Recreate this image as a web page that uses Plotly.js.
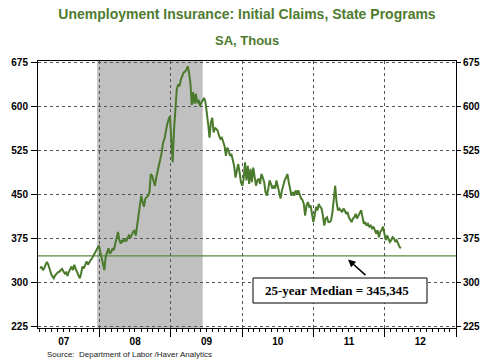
<!DOCTYPE html>
<html><head><meta charset="utf-8">
<script src="https://cdn.plot.ly/plotly-3.0.1.min.js"></script>
<style>html,body{margin:0;padding:0;background:#fff;} #chart{width:489px;height:364px;}</style>
</head><body><div id="chart"></div>
<script>
// Weekly initial claims, state programs, SA, thousands
const firstWeek = '2007-03-03';
const claims2007to2008 = [324,327,321,324,330,335,330,321,315,310,307,312,315,317,318,321,323,319,315,317,311,318,323,327,321,330,323,318,313,307,315,327,324,332,336,330,335,338,341,345,349,355,359,363,352,341,327,321,344,353,358,349,352,358,355,366,377,386,372,366,372,369,375,370,376,380,376,383,386,389,380,397];
const claims2008to2009 = [415,431,448,437,429,443,445,448,454,485,482,474,465,479,488,499,511,522,539,545,561,570,578,584,545,505,560,595,629,638,635,646,652,658,660,663,669,658,640,603,625,605,622,606,612,601];
const claims2009to2010 = [607,612,615,608,592,570,547,573,581,556,564,561,559,550,545,547,539,533,516,530,525,516,519,511,499,479,494,502,488,471,465,477,505,474,499,468,494,471,496,482,465,474,477,468,485,479,471,454,448,460,474,468,460,465,460,474,465,454,443,457,468,474,479,485,471,460,448,454,448,457,451,457,448];
const claims2010to2012 = [443,441,434,414,431,437,429,431,417,403,414,429,423,434,429,426,414,397,409,411,403,403,406,420,443,465,437,423,426,423,420,426,423,417,420,411,406,403,409,411,417,409,414,420,423,411,400,403,397,400,395,397,392,395,389,383,389,377,386,389,395,380,372,380,375,369,372,377,375,369,372,366,361,358];
const medianValue = 345.345;
const medianLabel = '25-year Median = 345,345';
const recessionStart = '2007-12-20';
const recessionEnd = '2009-06-13';
const xRange = ['2007-02-20', '2013-01-01'];
const yRange = [222, 678];
const yTickStep = 75;
const titleText = 'Unemployment Insurance: Initial Claims, State Programs';
const subtitleText = 'SA, Thous';
const sourceText = 'Source:\u00a0 Department of Labor /Haver Analytics';

const claims = [].concat(claims2007to2008, claims2008to2009, claims2009to2010, claims2010to2012);
const t0 = new Date(firstWeek + 'T00:00:00Z').getTime();
const dates = claims.map((_, i) => new Date(t0 + i * 7 * 86400000).toISOString().slice(0, 10));

const green = '#4a7a2b';
const titleGreen = '#4f7b2f';
const tickFont = {family: 'Liberation Sans, Arial, sans-serif', size: 10, color: '#000', weight: 'bold'};

const traces = [
  {x: dates, y: claims, type: 'scatter', mode: 'lines', line: {color: green, width: 2}, hoverinfo: 'skip', showlegend: false},
  {x: [dates[0]], y: [medianValue], yaxis: 'y2', type: 'scatter', mode: 'lines', hoverinfo: 'skip', showlegend: false, line: {width: 0}}
];

const W = 489, H = 364, L = 38, R = 33, T = 61, B = 36;
const pw = W - L - R, ph = H - T - B;
const px = v => (v - L) / pw;
const py = v => (H - B - v) / ph;

const layout = {
  width: W, height: H,
  margin: {l: L, r: R, t: T, b: B, pad: 0},
  paper_bgcolor: '#fff', plot_bgcolor: '#fff',
  showlegend: false,
  title: {text: titleText, x: 0.5, xref: 'paper', xanchor: 'center', y: 1 - 14 / H, yref: 'container', yanchor: 'middle',
          font: {family: 'Liberation Sans, Arial, sans-serif', size: 14, color: titleGreen, weight: 'bold'}},
  xaxis: {type: 'date', range: xRange, tick0: '2007-01-01', dtick: 'M12', tickformat: '%y', ticklabelmode: 'period',
          ticks: 'outside', ticklen: 8, tickcolor: '#000', tickwidth: 1,
          showline: true, linecolor: '#000', linewidth: 1, mirror: true,
          showgrid: true, gridcolor: '#555', griddash: '3px,3px', gridwidth: 1, zeroline: false,
          tickfont: tickFont, ticklabelstandoff: -4,
          minor: {dtick: 'M1', tick0: '2007-01-01', ticks: 'outside', ticklen: 3, tickcolor: '#000', showgrid: false}},
  yaxis: {range: yRange, tick0: 0, dtick: yTickStep, ticks: 'outside', ticklen: 6, tickcolor: '#000',
          showline: true, linecolor: '#000', linewidth: 1, mirror: true,
          showgrid: true, gridcolor: '#555', griddash: '3px,3px', gridwidth: 1, zeroline: false,
          tickfont: tickFont, ticklabelstandoff: 1},
  yaxis2: {overlaying: 'y', side: 'right', range: yRange, tick0: 0, dtick: yTickStep, ticks: 'outside', ticklen: 4, tickcolor: '#000',
           showline: false, showgrid: false, zeroline: false, tickfont: tickFont, ticklabelstandoff: 0},
  shapes: [
    {type: 'rect', xref: 'x', yref: 'paper', x0: recessionStart, x1: recessionEnd, y0: 0, y1: 1,
     fillcolor: '#c0c0c0', line: {width: 0}, layer: 'below'},
    {type: 'line', xref: 'paper', yref: 'y', x0: 0, x1: 1, y0: medianValue, y1: medianValue,
     line: {color: '#5b8a3c', width: 1.2}, layer: 'between'},
    {type: 'rect', xref: 'paper', yref: 'paper', x0: px(253), x1: px(427), y0: py(303), y1: py(278),
     fillcolor: '#fff', line: {color: '#000', width: 1}, layer: 'above'}
  ],
  annotations: [
    {text: subtitleText, xref: 'paper', yref: 'paper', x: 0.5, y: py(40), xanchor: 'center', yanchor: 'middle', showarrow: false,
     font: {family: 'Liberation Sans, Arial, sans-serif', size: 13, color: titleGreen, weight: 'bold'}},
    {text: sourceText, xref: 'paper', yref: 'paper', x: px(45), y: py(354), xanchor: 'left', yanchor: 'middle', showarrow: false,
     font: {family: 'Liberation Sans, Arial, sans-serif', size: 8, color: '#222'}},
    {text: medianLabel, xref: 'paper', yref: 'paper', x: px(263), y: py(290.5), xanchor: 'left', yanchor: 'middle', showarrow: false,
     font: {family: 'Liberation Serif, Times New Roman, serif', size: 13, color: '#000', weight: 'bold'}},
    {text: '', xref: 'paper', yref: 'paper', x: px(348), y: py(259.5), showarrow: true, ax: 19, ay: 17,
     arrowhead: 2, arrowsize: 1, arrowwidth: 1.5, arrowcolor: '#000'}
  ]
};

Plotly.newPlot('chart', traces, layout, {staticPlot: true, displayModeBar: false});
</script>
</body></html>
